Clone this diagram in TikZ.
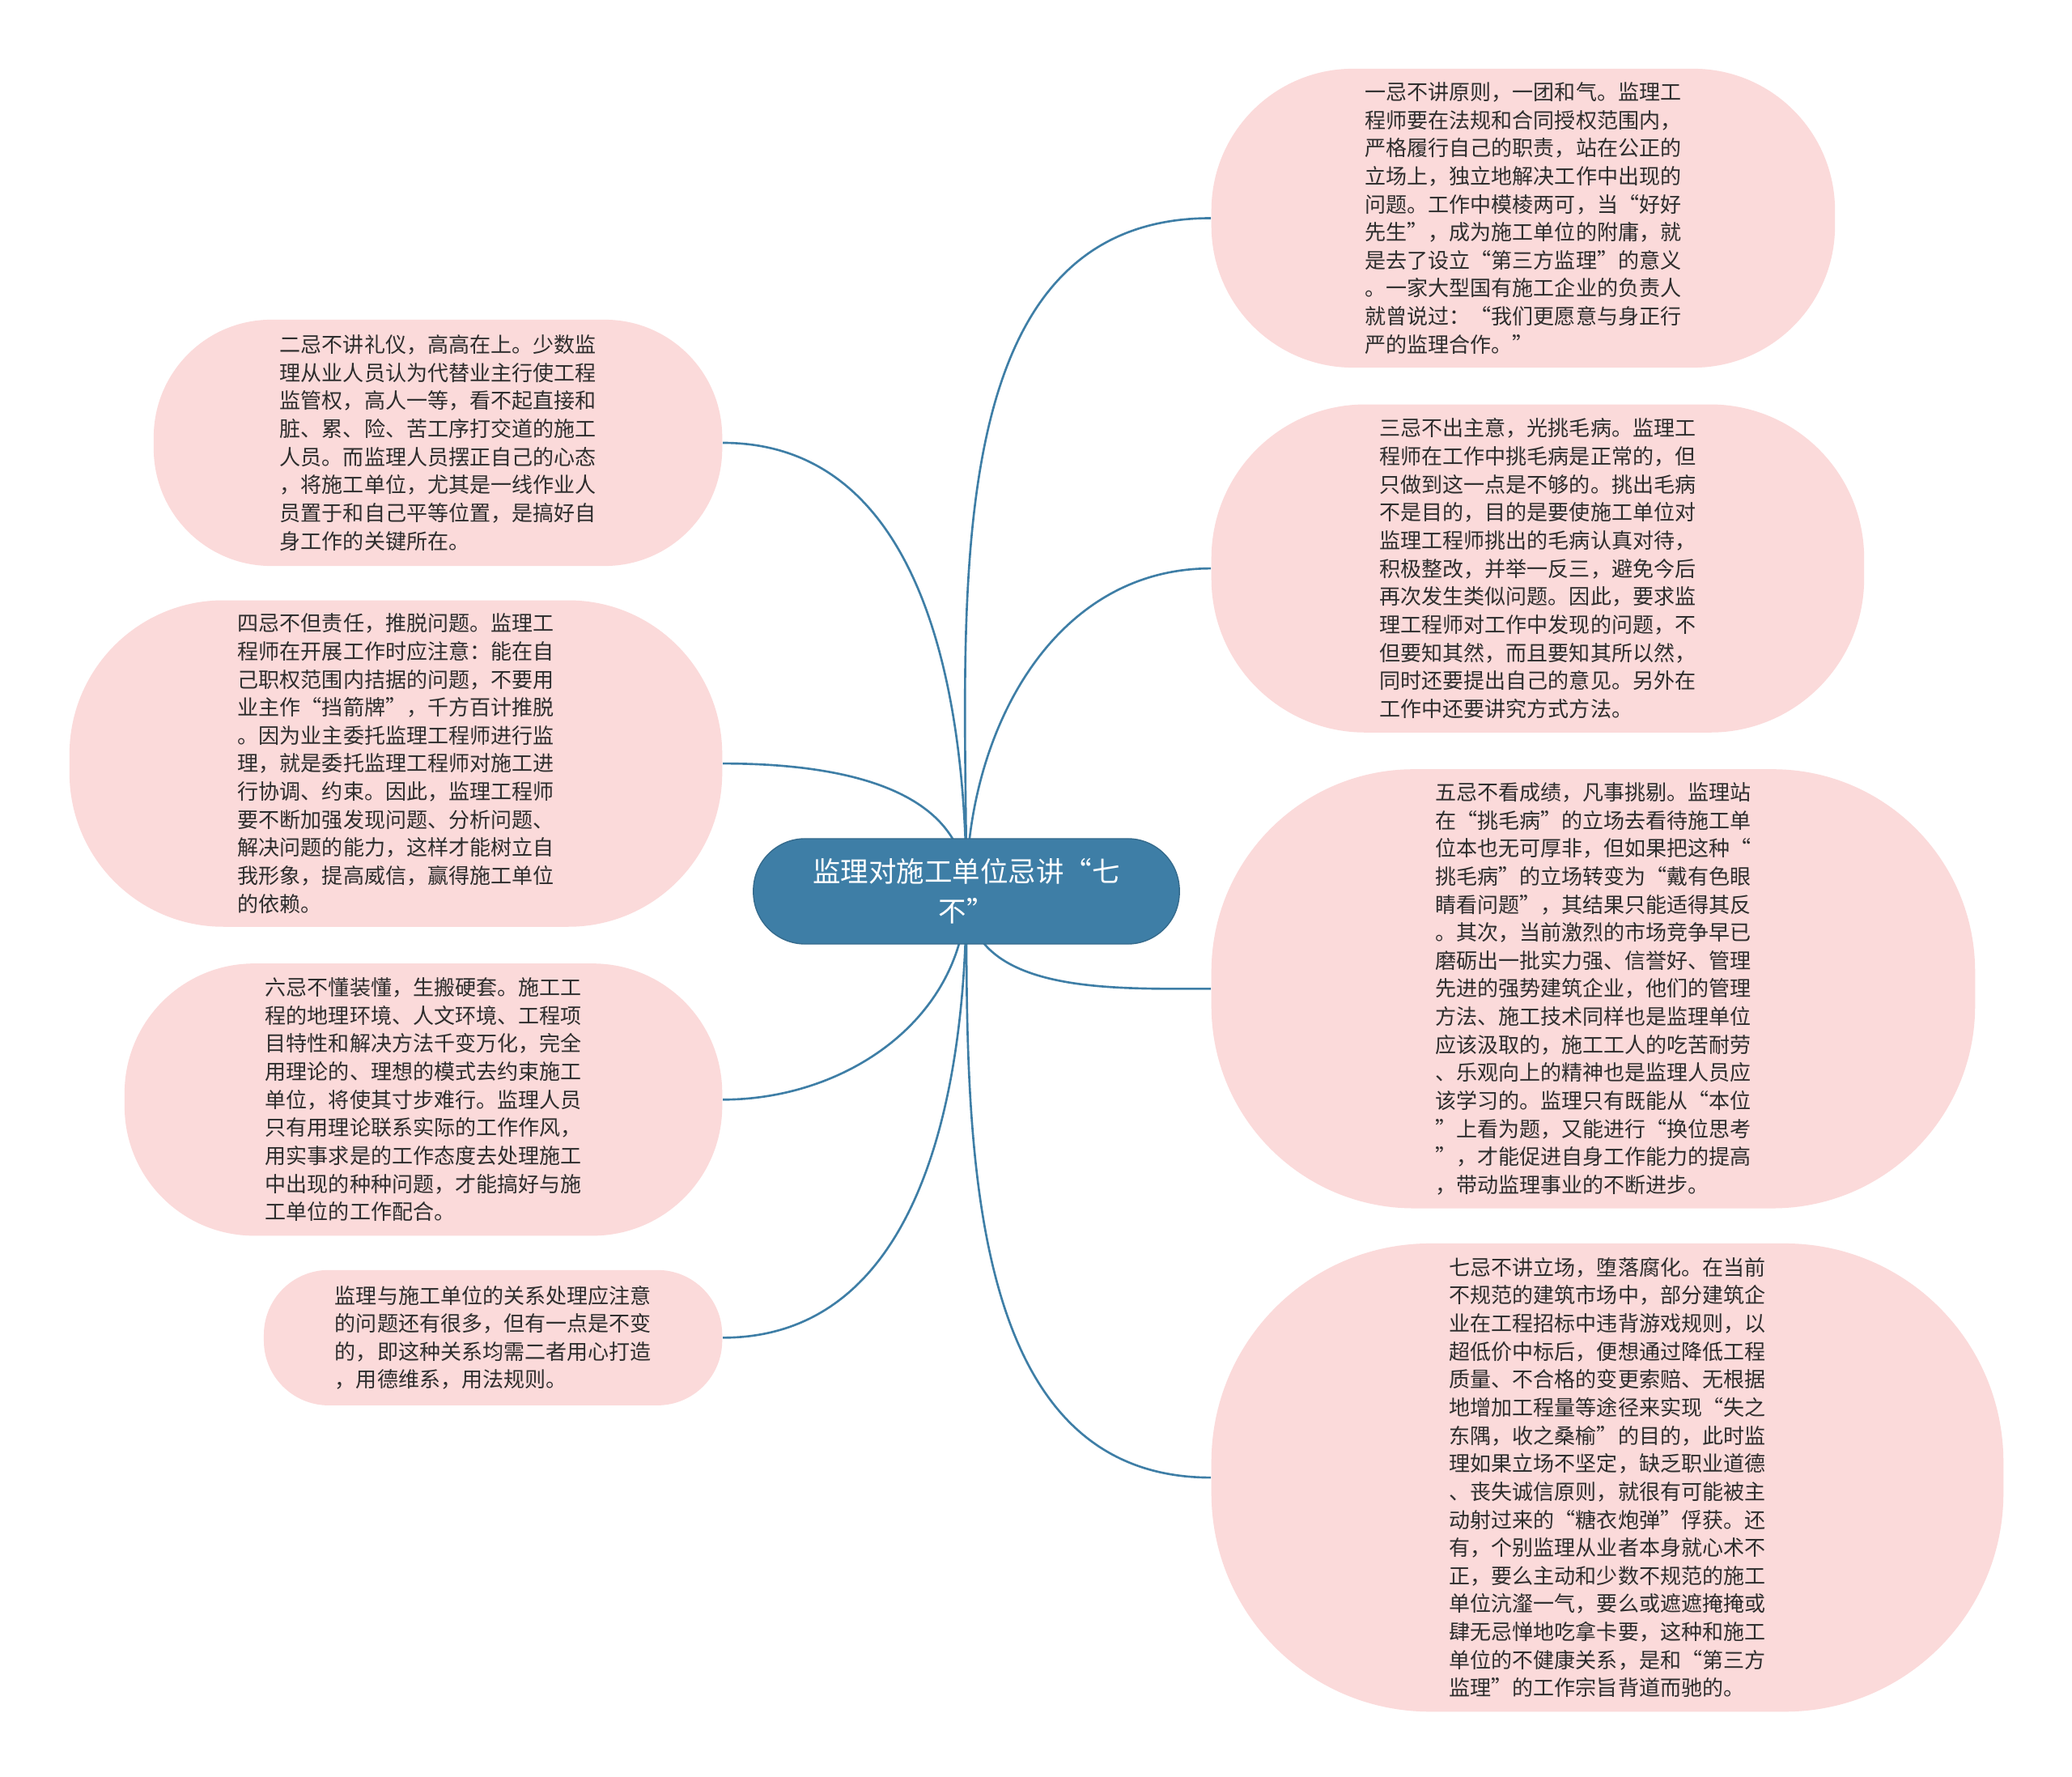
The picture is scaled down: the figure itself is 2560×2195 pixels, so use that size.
\documentclass[tikz,border=0pt]{standalone}
\usepackage{fontspec}
\newfontfamily\cjkfont{Noto Sans CJK SC}
\usetikzlibrary{positioning, backgrounds}
\definecolor{rootblue}{RGB}{62,126,166}
\definecolor{leafpink}{RGB}{251,218,218}
\definecolor{leaftext}{RGB}{45,45,45}
\tikzstyle{root} = [rectangle, rounded corners=0.64cm, draw=rootblue!85!black, line width=0.4pt, fill=rootblue, text=white, align=center, minimum width=5.26cm, minimum height=1.30cm, inner sep=0pt, font=\cjkfont\fontsize{9.8}{13.9}\selectfont]
\tikzstyle{leaf} = [rectangle, fill=leafpink, text=leaftext, align=left, inner sep=0pt, font=\cjkfont\fontsize{7.4}{9.85}\selectfont]
\tikzstyle{link} = [draw=rootblue, line width=0.75pt]

\begin{document}
\begin{tikzpicture}[x=0.01cm, y=-0.01cm]
\useasboundingbox (0,0) rectangle (2560,2195);
% Root
\node (root) [root] at (1194,1101) {监理对施工单位忌讲“七\\不”};

% Right branch
\node (r1) [leaf, minimum width=7.70cm, minimum height=3.69cm, rounded corners=1.75cm, anchor=west] at (1496,269.5)
{一忌不讲原则，一团和气。监理工\\程师要在法规和合同授权范围内，\\严格履行自己的职责，站在公正的\\立场上，独立地解决工作中出现的\\问题。工作中模棱两可，当“好好\\先生”，成为施工单位的附庸，就\\是去了设立“第三方监理”的意义\\。一家大型国有施工企业的负责人\\就曾说过：“我们更愿意与身正行\\严的监理合作。”};
\node (r2) [leaf, minimum width=8.06cm, minimum height=4.05cm, rounded corners=1.9cm, below=0.44cm of r1.south west, anchor=north west]
{三忌不出主意，光挑毛病。监理工\\程师在工作中挑毛病是正常的，但\\只做到这一点是不够的。挑出毛病\\不是目的，目的是要使施工单位对\\监理工程师挑出的毛病认真对待，\\积极整改，并举一反三，避免今后\\再次发生类似问题。因此，要求监\\理工程师对工作中发现的问题，不\\但要知其然，而且要知其所以然，\\同时还要提出自己的意见。另外在\\工作中还要讲究方式方法。};
\node (r3) [leaf, minimum width=9.43cm, minimum height=5.42cm, rounded corners=2.5cm, below=0.44cm of r2.south west, anchor=north west]
{五忌不看成绩，凡事挑剔。监理站\\在“挑毛病”的立场去看待施工单\\位本也无可厚非，但如果把这种“\\挑毛病”的立场转变为“戴有色眼\\睛看问题”，其结果只能适得其反\\。其次，当前激烈的市场竞争早已\\磨砺出一批实力强、信誉好、管理\\先进的强势建筑企业，他们的管理\\方法、施工技术同样也是监理单位\\应该汲取的，施工工人的吃苦耐劳\\、乐观向上的精神也是监理人员应\\该学习的。监理只有既能从“本位\\”上看为题，又能进行“换位思考\\”，才能促进自身工作能力的提高\\，带动监理事业的不断进步。};
\node (r4) [leaf, minimum width=9.78cm, minimum height=5.78cm, rounded corners=2.7cm, below=0.42cm of r3.south west, anchor=north west]
{七忌不讲立场，堕落腐化。在当前\\不规范的建筑市场中，部分建筑企\\业在工程招标中违背游戏规则，以\\超低价中标后，便想通过降低工程\\质量、不合格的变更索赔、无根据\\地增加工程量等途径来实现“失之\\东隅，收之桑榆”的目的，此时监\\理如果立场不坚定，缺乏职业道德\\、丧失诚信原则，就很有可能被主\\动射过来的“糖衣炮弹”俘获。还\\有，个别监理从业者本身就心术不\\正，要么主动和少数不规范的施工\\单位沆瀣一气，要么或遮遮掩掩或\\肆无忌惮地吃拿卡要，这种和施工\\单位的不健康关系，是和“第三方\\监理”的工作宗旨背道而驰的。};

% Left branch
\node (l1) [leaf, minimum width=7.02cm, minimum height=3.04cm, rounded corners=1.45cm, anchor=east] at (893,547)
{二忌不讲礼仪，高高在上。少数监\\理从业人员认为代替业主行使工程\\监管权，高人一等，看不起直接和\\脏、累、险、苦工序打交道的施工\\人员。而监理人员摆正自己的心态\\，将施工单位，尤其是一线作业人\\员置于和自己平等位置，是搞好自\\身工作的关键所在。};
\node (l2) [leaf, minimum width=8.06cm, minimum height=4.03cm, rounded corners=1.9cm, below=0.41cm of l1.south east, anchor=north east]
{四忌不但责任，推脱问题。监理工\\程师在开展工作时应注意：能在自\\己职权范围内拮据的问题，不要用\\业主作“挡箭牌”，千方百计推脱\\。因为业主委托监理工程师进行监\\理，就是委托监理工程师对施工进\\行协调、约束。因此，监理工程师\\要不断加强发现问题、分析问题、\\解决问题的能力，这样才能树立自\\我形象，提高威信，赢得施工单位\\的依赖。};
\node (l3) [leaf, minimum width=7.38cm, minimum height=3.36cm, rounded corners=1.6cm, below=0.44cm of l2.south east, anchor=north east]
{六忌不懂装懂，生搬硬套。施工工\\程的地理环境、人文环境、工程项\\目特性和解决方法千变万化，完全\\用理论的、理想的模式去约束施工\\单位，将使其寸步难行。监理人员\\只有用理论联系实际的工作作风，\\用实事求是的工作态度去处理施工\\中出现的种种问题，才能搞好与施\\工单位的工作配合。};
\node (l4) [leaf, minimum width=5.66cm, minimum height=1.67cm, rounded corners=0.8cm, below=0.41cm of l3.south east, anchor=north east]
{监理与施工单位的关系处理应注意\\的问题还有很多，但有一点是不变\\的，即这种关系均需二者用心打造\\，用德维系，用法规则。};

% Connections
\begin{scope}[on background layer]
\fill [white] (0,0) rectangle (2560,2195);
\draw [link] (root.center) to[out=90, in=180] (r1.west);
\draw [link] (root.center) to[out=90, in=180] (r2.west);
\draw [link] (root.center) to[out=-90, in=180] (r3.west);
\draw [link] (root.center) to[out=-90, in=180] (r4.west);
\draw [link] (root.center) to[out=90, in=0] (l1.east);
\draw [link] (root.center) to[out=90, in=0] (l2.east);
\draw [link] (root.center) to[out=-90, in=0] (l3.east);
\draw [link] (root.center) to[out=-90, in=0] (l4.east);
\end{scope}
\end{tikzpicture}
\end{document}
